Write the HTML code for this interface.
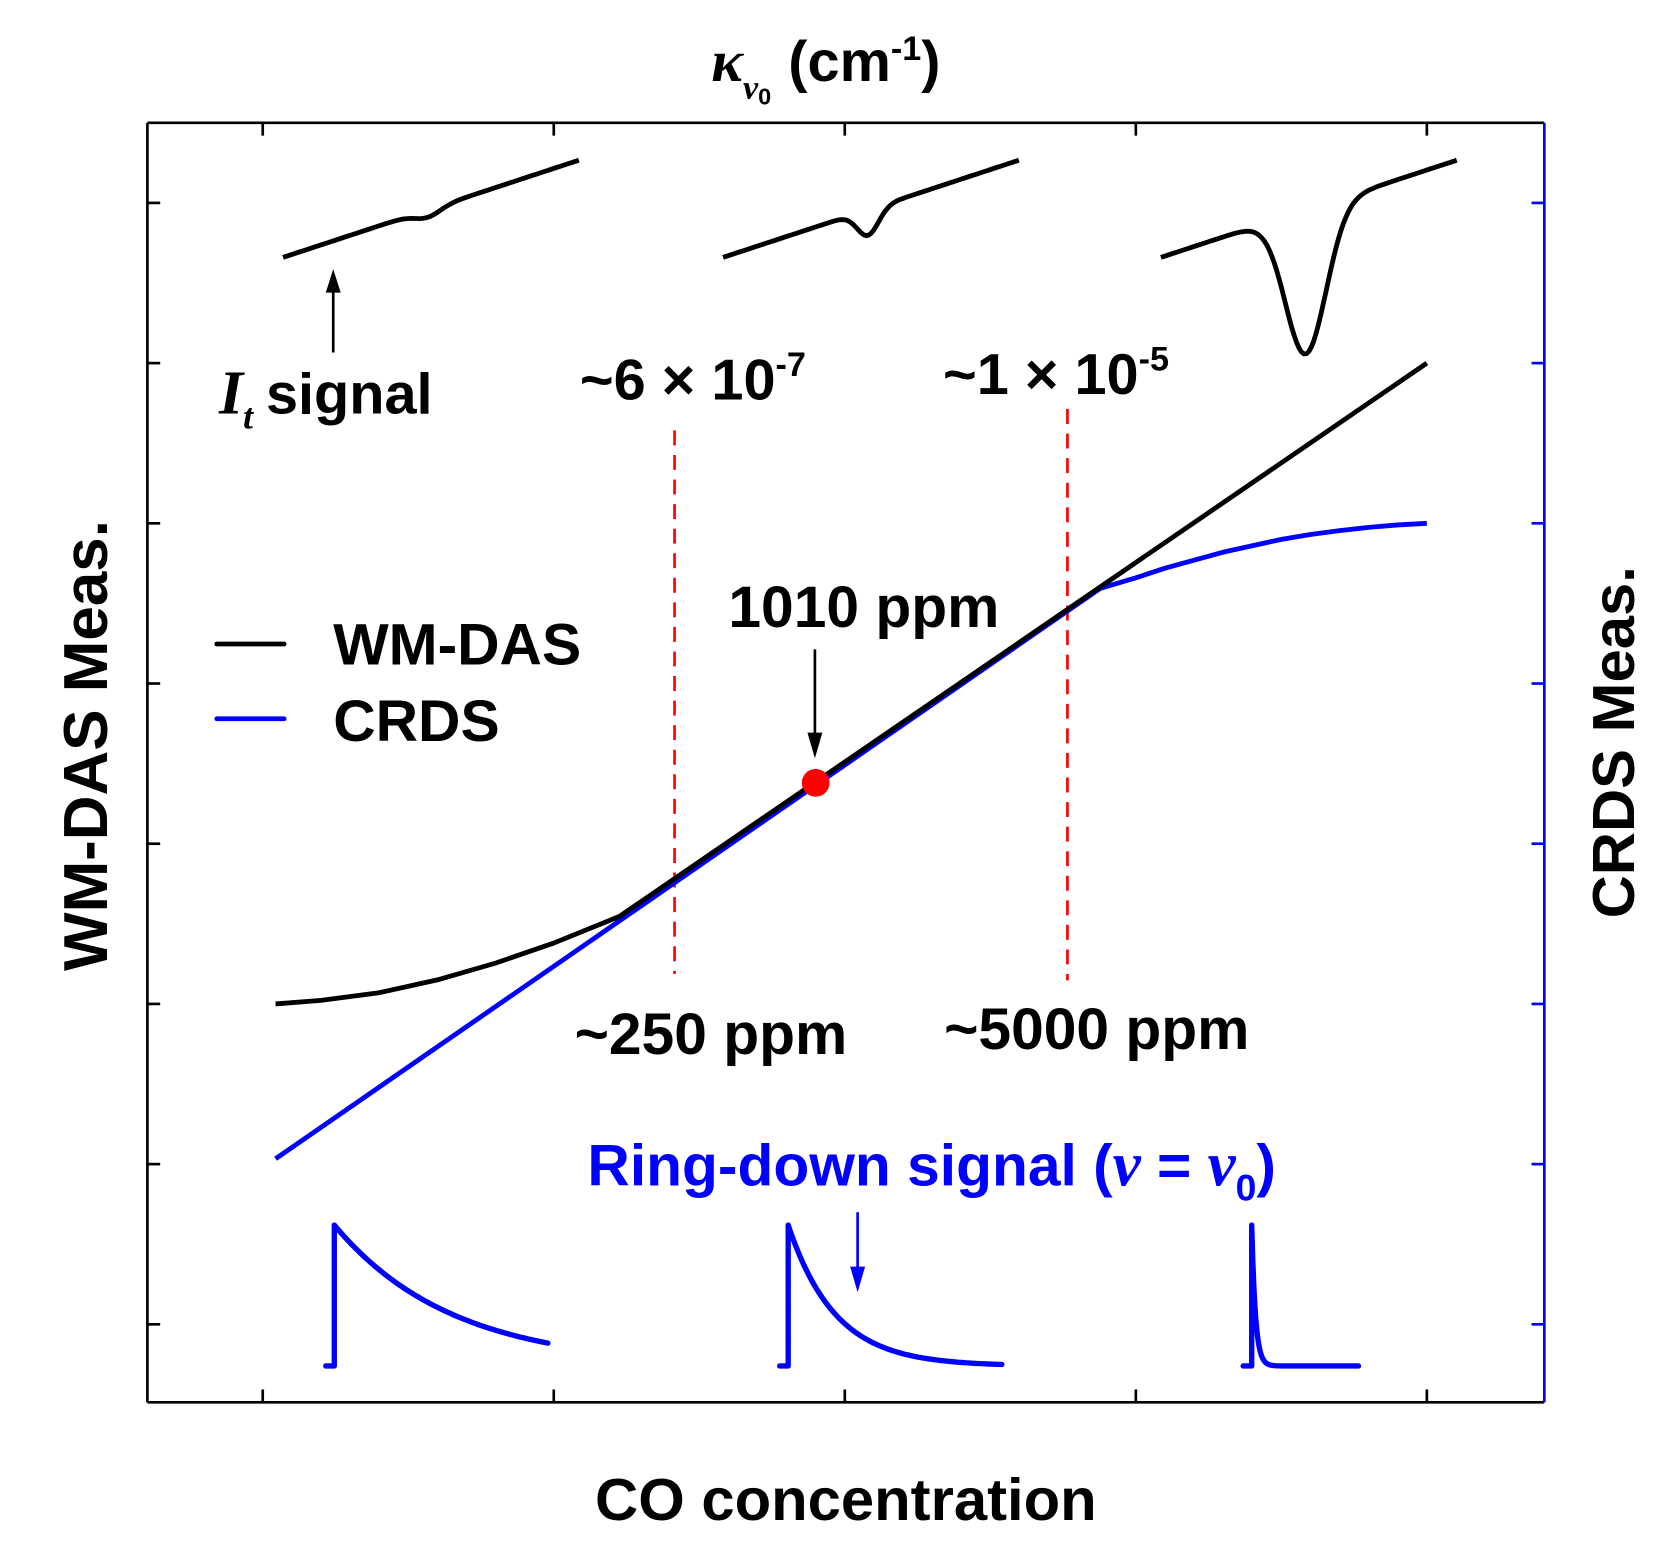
<!DOCTYPE html>
<html><head><meta charset="utf-8"><style>
html,body{margin:0;padding:0;background:#fff;}
svg{display:block;font-family:"Liberation Sans",sans-serif;font-weight:bold;}
</style></head><body>
<svg id="chart" width="1674" height="1558" viewBox="0 0 1567.4 1458.8" xmlns="http://www.w3.org/2000/svg">
<rect width="1567.4" height="1458.8" fill="#fff"/>
<g id="ticks"></g>
<g id="marks"></g>
<line x1="138" y1="115" x2="138" y2="1313" stroke="#000" stroke-width="2.5"/>
<line x1="138" y1="115" x2="1446" y2="115" stroke="#000" stroke-width="2.5"/>
<line x1="138" y1="1313" x2="1446" y2="1313" stroke="#000" stroke-width="2.5"/>
<line x1="1446" y1="115" x2="1446" y2="1313" stroke="#0000ff" stroke-width="2.5"/>

<text x="666" y="76" font-size="54"><tspan font-family="Liberation Serif" font-style="italic" font-size="56">κ</tspan><tspan font-family="Liberation Serif" font-style="italic" font-size="32" dy="16">ν</tspan><tspan font-size="22" dy="6">0</tspan><tspan dy="-22" dx="16">(cm</tspan><tspan font-size="32" dy="-20">-1</tspan><tspan dy="20">)</tspan></text>
<text transform="translate(100,698) rotate(-90)" text-anchor="middle" font-size="58">WM-DAS Meas.</text>
<text transform="translate(1530,695) rotate(-90)" text-anchor="middle" font-size="56">CRDS Meas.</text>
<text x="792" y="1423" text-anchor="middle" font-size="56">CO concentration</text>

<text x="205" y="387" font-size="54"><tspan font-family="Liberation Serif" font-style="italic" font-size="58">I</tspan><tspan font-family="Liberation Serif" font-style="italic" font-size="34" dy="14">t</tspan><tspan dy="-14" dx="12">signal</tspan></text>
<text x="543" y="374" font-size="54">~6 × 10<tspan font-size="32" dy="-22">-7</tspan></text>
<text x="883" y="369" font-size="54">~1 × 10<tspan font-size="32" dy="-22">-5</tspan></text>
<text x="682" y="587" font-size="55">1010 ppm</text>
<text x="538" y="987" font-size="55">~250 ppm</text>
<text x="884" y="982" font-size="55">~5000 ppm</text>
<text x="550" y="1110" font-size="55" fill="#0000ff">Ring-down signal (<tspan font-family="Liberation Serif" font-style="italic" font-size="59">ν</tspan> = <tspan font-family="Liberation Serif" font-style="italic" font-size="59">ν</tspan><tspan font-size="35" dy="14">0</tspan><tspan dy="-14">)</tspan></text>

<g>
<line x1="203" y1="603" x2="266" y2="603" stroke="#000" stroke-width="4.5" stroke-linecap="round"/>
<text x="312" y="622" font-size="55">WM-DAS</text>
<line x1="203" y1="673" x2="266" y2="673" stroke="#0000ff" stroke-width="4.5" stroke-linecap="round"/>
<text x="312" y="694" font-size="55">CRDS</text>
</g>

<g stroke-width="2.5">
<line x1="312" y1="330" x2="312" y2="270" stroke="#000"/><polygon points="305,274 319,274 312,252" fill="#000"/>
<line x1="763" y1="608" x2="763" y2="690" stroke="#000"/><polygon points="756,686 770,686 763,710" fill="#000"/>
<line x1="803" y1="1135" x2="803" y2="1190" stroke="#0000ff"/><polygon points="796,1186 810,1186 803,1210" fill="#0000ff"/>
</g>
</svg>
<script>
// data
const xTicks = [0, 1, 2, 3, 4];
const yTicks = [0, 1, 2, 3, 4, 5, 6, 7];
const wmdasX = [0.044, 0.2, 0.4, 0.6, 0.8, 1.0, 1.226, 4.0];
const wmdasY = [2.0, 2.022, 2.07, 2.15, 2.255, 2.38, 2.547, 6.0];
const crdsX = [0.044, 2.877, 3.0, 3.1, 3.2, 3.3, 3.4, 3.5, 3.6, 3.7, 3.8, 3.9, 4.0];
const crdsY = [1.033, 4.593, 4.66, 4.72, 4.77, 4.82, 4.86, 4.90, 4.93, 4.955, 4.975, 4.99, 5.0];
const pointX = [1.9];
const pointY = [3.38];
const thresholdX = [1.415, 2.765];
const ringdownDecay = [0.55, 0.22, 0.035];
const dipDepth = [7, 24, 135];
const dipWidth = [12, 10, 19];

const NS = "http://www.w3.org/2000/svg";
const xs = v => 246 + v * 272.5;
const ys = v => 1240 - v * 150;
const ticks = document.getElementById('ticks');
const marks = document.getElementById('marks');
function mk(tag, attrs, parent) {
  const e = document.createElementNS(NS, tag);
  for (const k in attrs) e.setAttribute(k, attrs[k]);
  parent.appendChild(e);
  return e;
}
xTicks.forEach(t => {
  const b = mk('line', {x1: xs(t), x2: xs(t), y1: 1313, y2: 1301, stroke: '#000', 'stroke-width': 2.5}, ticks);
  
  
  const tp = mk('line', {x1: xs(t), x2: xs(t), y1: 115, y2: 127, stroke: '#000', 'stroke-width': 2.5}, ticks);
  
  
});
yTicks.forEach(t => {
  const l = mk('line', {x1: 138, x2: 150, y1: ys(t), y2: ys(t), stroke: '#000', 'stroke-width': 2.5}, ticks);
  
  
  const r = mk('line', {x1: 1434, x2: 1446, y1: ys(t), y2: ys(t), stroke: '#0000ff', 'stroke-width': 2.5}, ticks);
  
  
});
function linePath(X, Y) {
  return X.map((x, i) => (i ? 'L' : 'M') + xs(x).toFixed(1) + ',' + ys(Y[i]).toFixed(1)).join(' ');
}
thresholdX.forEach((v, i) => {
  const l = mk('line', {x1: xs(v), x2: xs(v), y1: i ? 383 : 403, y2: i ? 918 : 912, stroke: '#ff0000', 'stroke-width': 2.5, 'stroke-dasharray': '14,9'}, marks);
  
  
});
const crds = mk('path', {d: linePath(crdsX, crdsY), fill: 'none', stroke: '#0000ff', 'stroke-width': 4.5, 'stroke-linejoin': 'round'}, marks);


const wm = mk('path', {d: linePath(wmdasX, wmdasY), fill: 'none', stroke: '#000', 'stroke-width': 4.5, 'stroke-linejoin': 'round'}, marks);


pointX.forEach((v, i) => {
  const c = mk('circle', {cx: xs(v), cy: ys(pointY[i]), r: 13, fill: '#ff0000'}, marks);
  
  
});
// transmission insets
const insetX0 = [265, 677, 1087];
insetX0.forEach((x0, k) => {
  let d = '';
  const w = 277;
  for (let i = 0; i <= 120; i++) {
    const u = i / 120;
    const x = x0 + u * w;
    const xc = x0 + 0.49 * w;
    const g = dipDepth[k] * Math.exp(-0.5 * Math.pow((x - xc) / dipWidth[k], 2));
    const y = 241 - u * 91 + g;
    d += (i ? 'L' : 'M') + x.toFixed(1) + ',' + y.toFixed(1);
  }
  const p = mk('path', {d, fill: 'none', stroke: '#000', 'stroke-width': 4.5}, marks);
  
  
});
// ringdown insets
const rdX0 = [313, 738, 1172];
const rdW = [200, 200, 100];
rdX0.forEach((x0, k) => {
  let d = `M${x0 - 8},1279 L${x0},1279 L${x0},1147`;
  for (let i = 1; i <= 100; i++) {
    const u = i / 100;
    const y = 1279 - 132 * Math.exp(-u / ringdownDecay[k]);
    d += `L${(x0 + u * rdW[k]).toFixed(1)},${y.toFixed(1)}`;
  }
  const p = mk('path', {d, fill: 'none', stroke: '#0000ff', 'stroke-width': 5, 'stroke-linejoin': 'round', 'stroke-linecap': 'round'}, marks);
  
  
});
</script>
</body></html>
